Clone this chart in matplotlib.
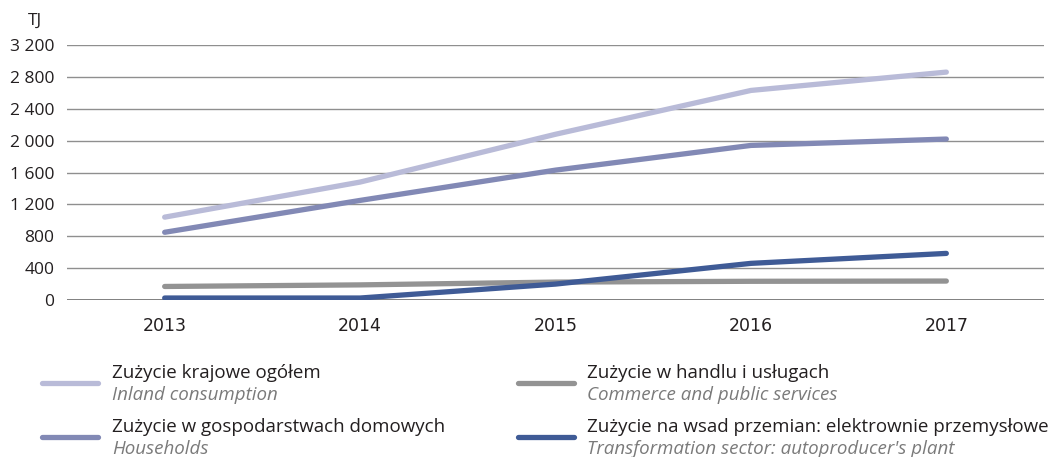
import matplotlib
matplotlib.use('Agg')
import matplotlib.pyplot as plt
from matplotlib.lines import Line2D

# Dane (TJ)
years = ['2013', '2014', '2015', '2016', '2017']
inland = [1040, 1480, 2080, 2630, 2860]
households = [850, 1250, 1630, 1940, 2020]
commerce = [170, 190, 225, 235, 238]
transformation = [25, 25, 200, 460, 585]

y_ticks = [0, 400, 800, 1200, 1600, 2000, 2400, 2800, 3200]
y_labels = ['0', '400', '800', '1 200', '1 600', '2 000', '2 400', '2 800', '3 200']

series = [
    (inland, '#b9bbd8', 'Zużycie krajowe ogółem', 'Inland consumption'),
    (households, '#8289b5', 'Zużycie w gospodarstwach domowych', 'Households'),
    (commerce, '#939393', 'Zużycie w handlu i usługach', 'Commerce and public services'),
    (transformation, '#3f5b96', 'Zużycie na wsad przemian: elektrownie przemysłowe',
     "Transformation sector: autoproducer's plant"),
]

plt.rcParams['font.family'] = ['Open Sans', 'DejaVu Sans']

fig = plt.figure(figsize=(10.58, 4.57), dpi=100)
ax = fig.add_axes([0.0633, 0.3435, 0.9235, 0.558])

x = range(len(years))
for vals, color, _, _ in series:
    ax.plot(x, vals, color=color, lw=3.8, solid_capstyle='round', solid_joinstyle='round', zorder=3)

ax.set_xlim(-0.5, 4.5)
ax.set_ylim(0, 3200)
ax.set_yticks(y_ticks)
ax.set_yticklabels(y_labels, fontsize=12.5, color='#231f20')
ax.set_xticks(list(x))
ax.set_xticklabels(years, fontsize=12.5, color='#231f20', family=['Liberation Sans Narrow', 'DejaVu Sans'])
ax.tick_params(axis='both', length=0, pad=9)
ax.tick_params(axis='x', pad=12)
ax.grid(axis='y', color='#8f8f8f', lw=1)
for s in ax.spines.values():
    s.set_visible(False)
ax.axhline(0, color='#6f6f6f', lw=1.2, zorder=2)

fig.text(0.026, 0.955, 'TJ', fontsize=12.5, color='#231f20', va='center')

# Legenda
leg_pos = [(0.040, 0.106, 0.162), (0.040, 0.106, 0.044), (0.490, 0.555, 0.162), (0.490, 0.555, 0.044)]
for (vals, color, pl, en), (x0, xt, yl) in zip(series, leg_pos):
    fig.add_artist(Line2D([x0, x0 + 0.053], [yl, yl], color=color, lw=3.8,
                          solid_capstyle='round', transform=fig.transFigure))
    fig.text(xt, yl + 0.021, pl, fontsize=13.5, color='#231f20', va='center')
    fig.text(xt, yl - 0.027, en, fontsize=13.5, color='#7a7a7a', style='italic', va='center')

fig.savefig('out.png', dpi=100)
